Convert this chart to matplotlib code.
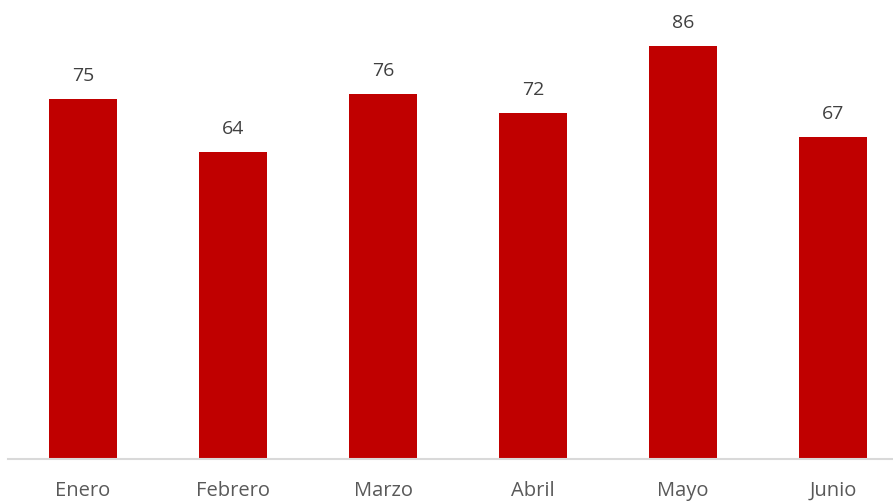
import matplotlib.pyplot as plt

meses = ['Enero', 'Febrero', 'Marzo', 'Abril', 'Mayo', 'Junio']
valores = [75, 64, 76, 72, 86, 67]

W, H = 893, 502
fig = plt.figure(figsize=(W / 100, H / 100), dpi=100)
# el eje se sale un poco por la derecha, como en el original
ax = fig.add_axes([8 / W, (H - 460) / H, 900 / W, 456 / H])

x = list(range(len(meses)))
barras = ax.bar(x, valores, width=0.455, color='#C00000')
ax.set_xlim(-0.5, len(meses) - 0.5)
ax.set_ylim(0, 95)

ax.bar_label(barras, labels=[str(v) for v in valores], padding=11,
             fontsize=14, color='#404040', family='Open Sans')

ax.set_xticks(x)
ax.set_xticklabels(meses, fontsize=14.5, color='#595959', family='Open Sans',
                   va='baseline')
ax.tick_params(axis='x', length=0, pad=26)
ax.set_yticks([])

for lado in ['top', 'right', 'left']:
    ax.spines[lado].set_visible(False)
ax.spines['bottom'].set_color('#D9D9D9')
ax.spines['bottom'].set_linewidth(1.5)

fig.savefig('out.png', dpi=100)
